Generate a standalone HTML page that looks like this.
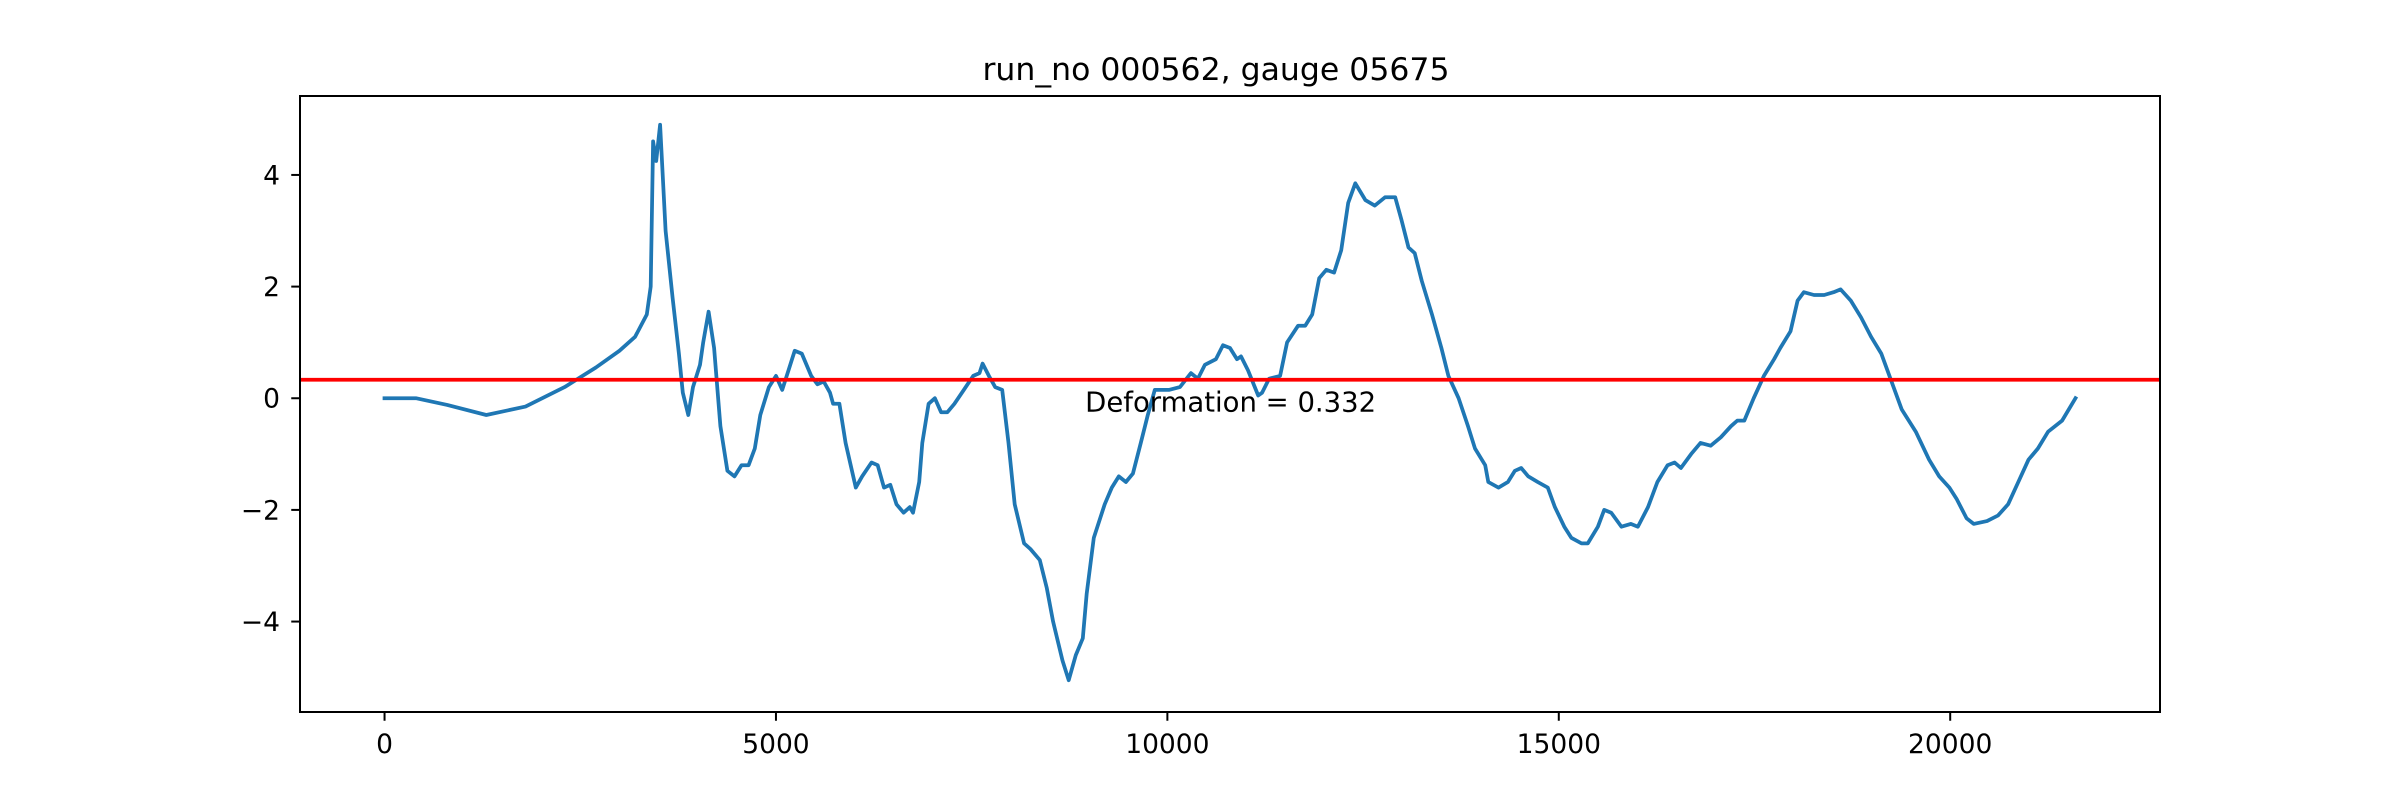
<!DOCTYPE html>
<html><head><meta charset="utf-8">
<style>
html,body{margin:0;padding:0;background:#fff;}
svg{display:block;font-family:"DejaVu Sans","Liberation Sans",sans-serif;}
</style></head>
<body>
<svg id="chart" width="2400" height="800" viewBox="0 0 2400 800" xmlns="http://www.w3.org/2000/svg">
<rect x="0" y="0" width="2400" height="800" fill="#fff"/>
<text x="1216" y="80" font-size="31.5" text-anchor="middle" fill="#000">run_no 000562, gauge 05675</text>
<g id="plot"></g>
</svg>
<script>
const xs = [0,400,800,1300,1800,2300,2700,3000,3200,3350,3400,3430,3470,3520,3590,3680,3760,3810,3880,3940,4030,4070,4140,4210,4290,4380,4470,4560,4650,4730,4800,4910,5000,5080,5160,5240,5330,5450,5530,5610,5690,5730,5810,5890,6020,6100,6220,6300,6380,6460,6540,6630,6710,6750,6830,6870,6950,7030,7110,7190,7280,7400,7520,7600,7640,7720,7800,7890,7970,8050,8170,8250,8370,8460,8540,8660,8740,8830,8920,8970,9060,9200,9290,9380,9470,9560,9660,9750,9840,10020,10160,10300,10390,10480,10620,10710,10800,10890,10940,11030,11160,11210,11300,11440,11530,11670,11760,11850,11940,12030,12130,12220,12310,12400,12530,12650,12780,12910,12990,13080,13160,13250,13380,13500,13590,13720,13840,13930,14060,14100,14230,14350,14440,14520,14610,14730,14860,14950,15070,15160,15290,15370,15500,15580,15670,15800,15920,16010,16140,16260,16390,16480,16560,16690,16810,16940,17070,17200,17280,17370,17490,17620,17750,17830,17960,18050,18130,18260,18390,18510,18600,18730,18860,18990,19120,19250,19380,19560,19730,19860,19990,20080,20210,20300,20470,20610,20740,20870,21000,21120,21250,21430,21600];
const ys = [0,0,-0.12,-0.3,-0.15,0.2,0.55,0.85,1.1,1.5,2,4.6,4.25,4.9,3,1.8,0.8,0.1,-0.3,0.2,0.6,1,1.55,0.9,-0.5,-1.3,-1.4,-1.2,-1.2,-0.9,-0.3,0.2,0.4,0.15,0.5,0.85,0.8,0.4,0.25,0.3,0.1,-0.1,-0.1,-0.8,-1.6,-1.4,-1.15,-1.2,-1.6,-1.55,-1.9,-2.05,-1.95,-2.05,-1.5,-0.8,-0.1,0,-0.25,-0.25,-0.1,0.15,0.4,0.45,0.62,0.4,0.2,0.15,-0.8,-1.9,-2.6,-2.7,-2.9,-3.4,-4.0,-4.7,-5.05,-4.6,-4.3,-3.5,-2.5,-1.9,-1.6,-1.4,-1.5,-1.35,-0.8,-0.3,0.15,0.15,0.2,0.45,0.35,0.6,0.7,0.95,0.9,0.7,0.75,0.5,0.05,0.1,0.35,0.4,1.0,1.3,1.3,1.5,2.15,2.3,2.25,2.65,3.5,3.85,3.55,3.45,3.6,3.6,3.2,2.7,2.6,2.1,1.5,0.9,0.4,0,-0.5,-0.9,-1.2,-1.5,-1.6,-1.5,-1.3,-1.25,-1.4,-1.5,-1.6,-1.95,-2.3,-2.5,-2.6,-2.6,-2.3,-2.0,-2.05,-2.3,-2.25,-2.3,-1.95,-1.5,-1.2,-1.15,-1.25,-1.0,-0.8,-0.85,-0.7,-0.5,-0.4,-0.4,0,0.4,0.7,0.9,1.2,1.75,1.9,1.85,1.85,1.9,1.95,1.75,1.45,1.1,0.8,0.3,-0.2,-0.6,-1.1,-1.4,-1.6,-1.8,-2.15,-2.25,-2.2,-2.1,-1.9,-1.5,-1.1,-0.9,-0.6,-0.4,0];
const xTicks = [0,5000,10000,15000,20000];
const yTicks = [-4,-2,0,2,4];
const deformation = [0.332];
const annotX = [8950];

const L=300,R=2160,T=96,B=712;
const xMin=-1080,xMax=22680,yMin=-5.62,yMax=5.414;
const sx=v=>L+(v-xMin)/(xMax-xMin)*(R-L);
const sy=v=>B-(v-yMin)/(yMax-yMin)*(B-T);
const NS='http://www.w3.org/2000/svg';
const plot=document.getElementById('plot');
function mk(tag,attrs){const e=document.createElementNS(NS,tag);for(const k in attrs)e.setAttribute(k,attrs[k]);plot.appendChild(e);return e;}

let d='';
xs.forEach((x,i)=>{d+=(i?'L':'M')+sx(x).toFixed(1)+','+sy(ys[i]).toFixed(1);});
const line=mk('path',{d:d,fill:'none',stroke:'#1f77b4','stroke-width':3.75,'stroke-linejoin':'round','stroke-linecap':'square'});



const hl=mk('line',{x1:L,x2:R,y1:sy(deformation[0]),y2:sy(deformation[0]),stroke:'#ff0000','stroke-width':3.75});



const at=mk('text',{x:sx(annotX[0]),y:sy(deformation[0])+32,'font-size':27.5,fill:'#000'});
at.textContent='Deformation = '+deformation[0];



xTicks.forEach(v=>{
  const t=mk('line',{x1:sx(v),x2:sx(v),y1:B,y2:B+8.75,stroke:'#000','stroke-width':2});
  
  
  const lb=mk('text',{x:sx(v),y:753,'font-size':26.5,'text-anchor':'middle',fill:'#000'});
  lb.textContent=String(v);
  
  
});
yTicks.forEach(v=>{
  const t=mk('line',{x1:L-8.75,x2:L,y1:sy(v),y2:sy(v),stroke:'#000','stroke-width':2});
  
  
  const lb=mk('text',{x:L-20,y:sy(v)+9.5,'font-size':26.5,'text-anchor':'end',fill:'#000'});
  lb.textContent=(v<0?'\u2212':'')+Math.abs(v);
  
  
});
const frame=mk('rect',{x:L,y:T,width:R-L,height:B-T,fill:'none',stroke:'#000','stroke-width':2});


</script>
</body></html>
